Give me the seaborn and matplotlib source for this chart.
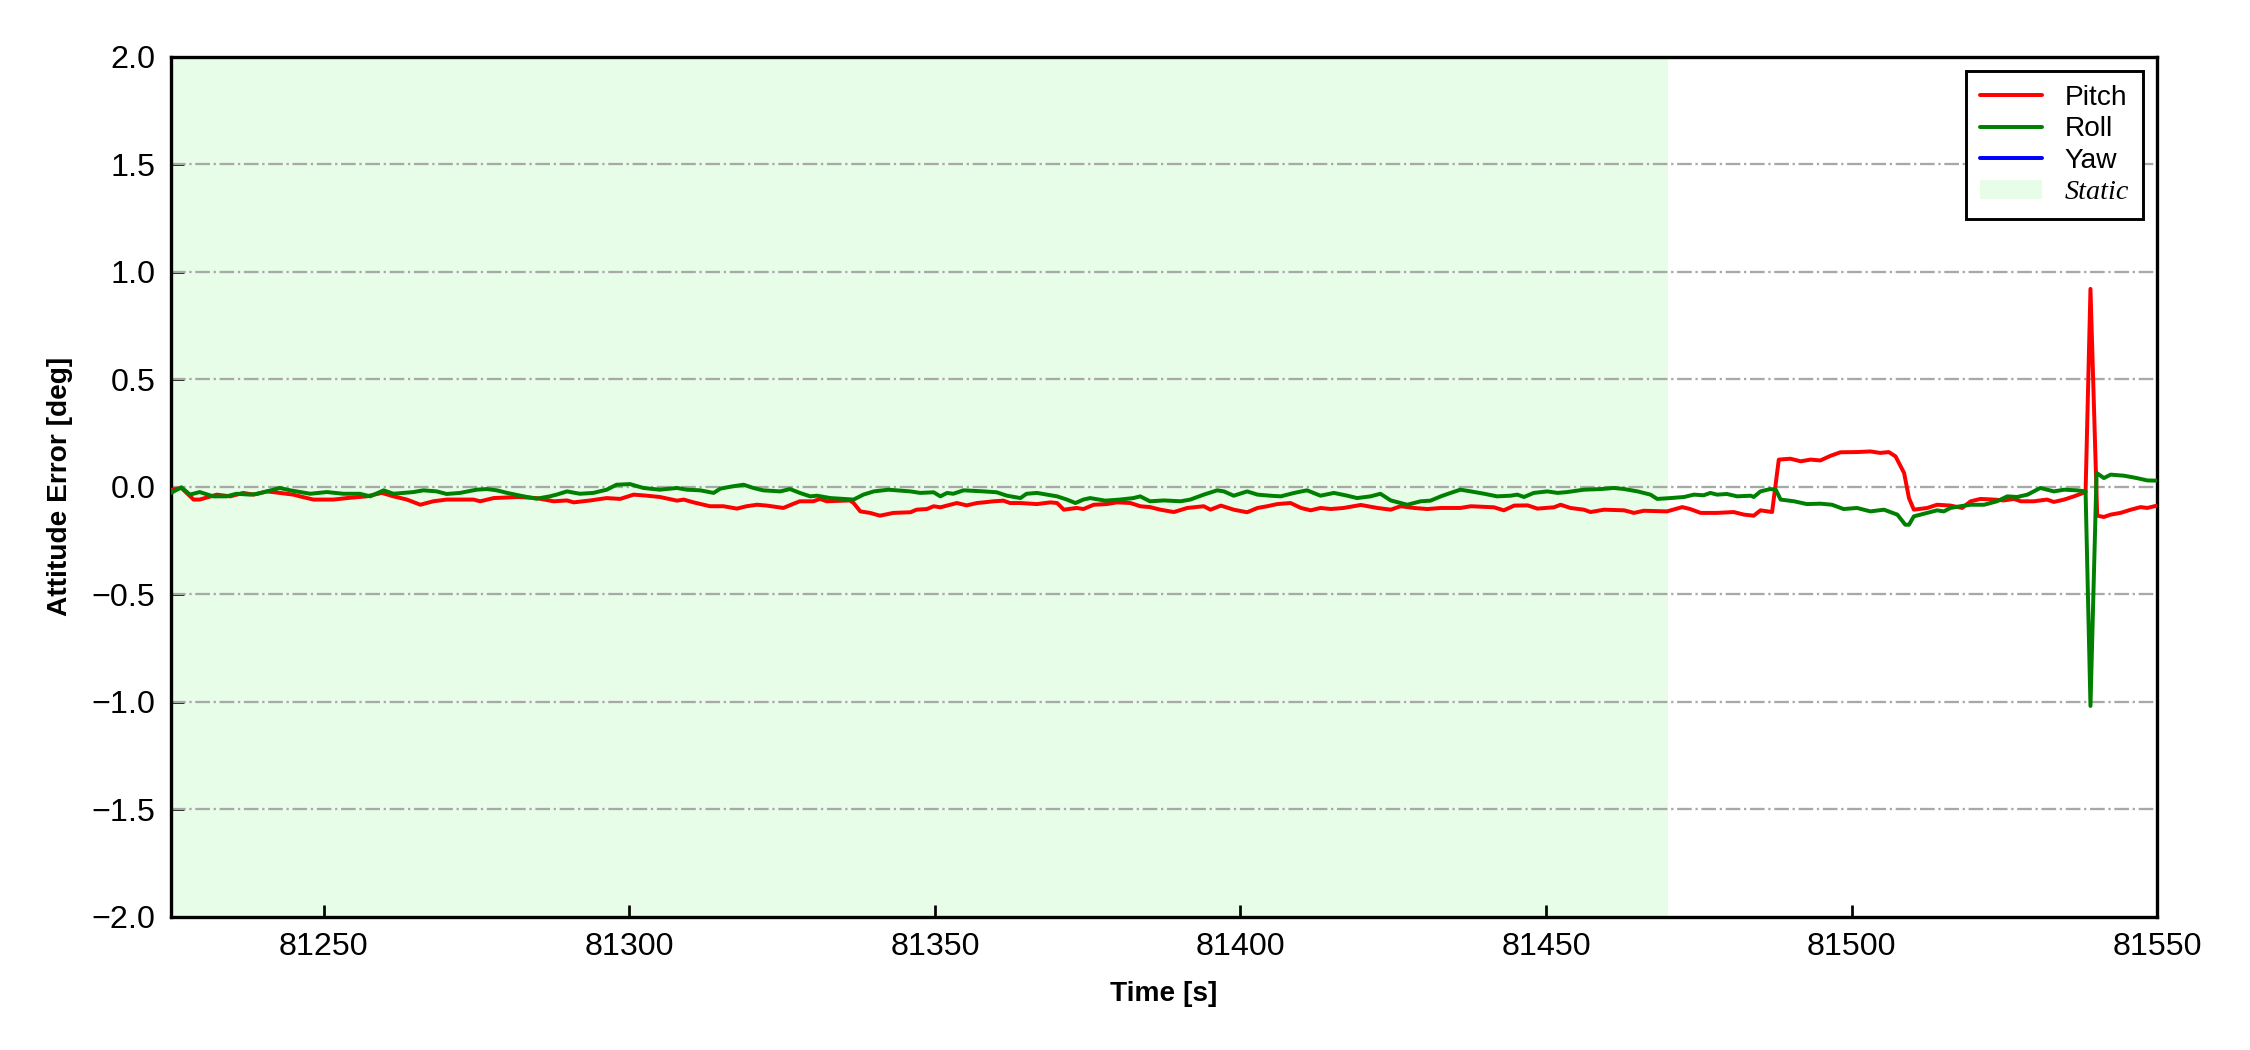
import matplotlib

matplotlib.use("Agg")

import matplotlib.pyplot as plt
import pandas as pd
import seaborn as sns
from matplotlib.lines import Line2D
from matplotlib.patches import Patch

# attitude error traces
pitch_t = [
    81225.0, 81226.7, 81228.7, 81229.7, 81232.5, 81234.7, 81236.8, 81238.5, 81240.7,
    81242.8, 81245.0, 81246.1, 81248.3, 81251.6, 81253.8, 81257.0, 81259.5, 81261.4, 81263.6,
    81265.8, 81267.9, 81270.1, 81274.5, 81275.6, 81277.8, 81281.8, 81284.8, 81287.6, 81289.8,
    81290.9, 81293.6, 81296.3, 81298.5, 81300.7, 81302.9, 81305.0,
    81307.8, 81308.9, 81310.5, 81313.2, 81315.4, 81317.6, 81319.2, 81320.9, 81322.5, 81325.2,
    81326.9, 81327.9, 81330.1, 81331.2, 81332.3, 81336.1, 81336.7, 81337.8, 81339.4, 81341.0,
    81343.2, 81346.0, 81347.0, 81348.7, 81349.8, 81350.9, 81352.5, 81353.6, 81355.2, 81356.9,
    81358.0, 81359.6, 81361.2, 81362.3, 81364.0, 81366.7, 81368.9, 81370.0, 81371.1, 81373.2,
    81374.3, 81376.0, 81378.1, 81379.8, 81382.0, 81383.6, 81385.2,
    81386.9, 81389.1, 81391.3, 81394.0, 81395.1, 81396.8, 81398.9, 81401.1, 81402.8, 81404.4,
    81406.0, 81408.2, 81409.9, 81411.5, 81413.1, 81414.8, 81416.9, 81419.7, 81422.4, 81424.6,
    81426.2, 81428.4, 81430.6, 81432.8, 81436.0, 81437.7, 81441.5, 81443.1, 81444.8, 81447.0,
    81448.6, 81451.3, 81452.4, 81454.0, 81456.2, 81457.3, 81459.5, 81462.8, 81464.4, 81466.0,
    81469.8, 81472.3, 81473.6, 81475.3, 81478.0, 81480.7, 81482.4, 81484.0, 81485.1, 81487.0,
    81488.1, 81490.0, 81491.7, 81493.3, 81494.9, 81496.6, 81498.2, 81500.9, 81503.1, 81504.7,
    81506.1, 81507.2, 81508.6, 81509.4, 81510.2, 81512.4, 81514.0, 81516.2, 81518.1, 81519.5,
    81521.1, 81523.3, 81524.9, 81526.6, 81527.7, 81529.8, 81532.0, 81533.1, 81534.8, 81536.4,
    81538.3, 81539.1, 81540.2, 81541.3, 81542.4, 81544.0, 81545.7, 81547.3, 81548.4, 81550.0,
]
pitch = [
    -0.015, -0.006, -0.060, -0.060, -0.037, -0.045, -0.029, -0.037, -0.022,
    -0.029, -0.037, -0.045, -0.060, -0.060, -0.053, -0.045, -0.029, -0.045, -0.060,
    -0.084, -0.068, -0.060, -0.060, -0.068, -0.053, -0.048, -0.053, -0.068, -0.064,
    -0.073, -0.064, -0.053, -0.057, -0.037, -0.042, -0.048,
    -0.065, -0.060, -0.073, -0.091, -0.091, -0.102, -0.091, -0.084, -0.088, -0.099,
    -0.079, -0.068, -0.068, -0.057, -0.068, -0.064, -0.076, -0.115, -0.122, -0.135,
    -0.122, -0.119, -0.107, -0.104, -0.091, -0.096, -0.084, -0.076, -0.087, -0.076,
    -0.073, -0.068, -0.065, -0.076, -0.076, -0.081, -0.073, -0.076, -0.107, -0.099,
    -0.104, -0.084, -0.081, -0.073, -0.076, -0.091, -0.095,
    -0.107, -0.118, -0.099, -0.091, -0.107, -0.088, -0.107, -0.119, -0.099, -0.091,
    -0.081, -0.076, -0.099, -0.110, -0.099, -0.104, -0.099, -0.085, -0.099, -0.107,
    -0.091, -0.099, -0.104, -0.099, -0.099, -0.091, -0.096, -0.110, -0.088, -0.087,
    -0.102, -0.096, -0.084, -0.099, -0.107, -0.118, -0.107, -0.110, -0.122, -0.112,
    -0.115, -0.095, -0.104, -0.122, -0.122, -0.118, -0.130, -0.135, -0.110, -0.118,
    0.126, 0.130, 0.118, 0.126, 0.122, 0.144, 0.160, 0.161, 0.164, 0.157,
    0.161, 0.141, 0.064, -0.053, -0.107, -0.099, -0.084, -0.088, -0.099, -0.068,
    -0.057, -0.060, -0.064, -0.057, -0.068, -0.068, -0.060, -0.071, -0.060, -0.045,
    -0.025, 0.920, -0.135, -0.141, -0.130, -0.122, -0.107, -0.095, -0.099, -0.088,
]

roll_t = [
    81225.0, 81226.7, 81228.1, 81229.7, 81231.9, 81234.1, 81235.7, 81237.9, 81239.0, 81240.7,
    81242.8, 81244.5, 81246.1, 81247.8, 81250.5, 81253.2, 81255.9, 81257.6, 81259.8, 81261.4,
    81264.7, 81266.3, 81268.5, 81270.1, 81272.3, 81275.0, 81276.7, 81278.3, 81280.0, 81282.7,
    81284.8, 81287.0, 81288.1, 81289.8, 81291.9, 81294.1, 81296.3, 81297.9, 81300.1, 81302.3,
    81305.0,
    81307.8, 81309.4, 81311.6, 81313.8, 81314.9, 81317.0, 81318.7, 81320.3, 81321.9, 81324.7,
    81326.3, 81327.9, 81329.6, 81330.7, 81332.9, 81335.0, 81336.7, 81338.3, 81340.0, 81342.4,
    81346.0, 81347.6, 81349.8, 81350.9, 81352.0, 81353.0, 81354.7, 81358.0, 81360.1, 81361.8,
    81364.0, 81365.0, 81366.7, 81368.3, 81370.0, 81371.6, 81373.0, 81374.3, 81375.4, 81377.9,
    81380.3, 81382.5, 81383.6, 81385.2,
    81387.5, 81390.2, 81391.8, 81394.0, 81396.2, 81397.3, 81398.9, 81401.1, 81402.8, 81404.9,
    81406.6, 81408.8, 81410.9, 81413.1, 81415.3, 81417.5, 81419.1, 81421.3, 81422.9, 81424.6,
    81427.3, 81429.5, 81431.1, 81432.8, 81434.4, 81436.0, 81437.7, 81439.9, 81442.0, 81444.2,
    81445.3, 81446.4, 81448.0, 81450.2, 81451.9, 81453.5, 81456.2, 81459.0, 81461.1, 81462.8,
    81465.0, 81467.1,
    81468.2, 81470.4, 81472.6, 81474.2, 81475.8, 81476.9, 81478.0, 81479.6, 81481.3, 81483.5,
    81484.0, 81485.1, 81486.7, 81487.6, 81488.4, 81490.6, 81492.7, 81494.9, 81496.8, 81498.7,
    81500.9, 81503.1, 81505.3, 81507.5, 81508.8, 81509.4, 81510.2, 81512.4, 81514.0, 81515.1,
    81516.2, 81517.8, 81519.5, 81521.7, 81523.8, 81525.5, 81527.1, 81528.8, 81530.9, 81533.1,
    81534.8, 81536.9, 81538.3, 81539.1, 81540.1, 81541.3, 81542.4, 81544.6, 81546.7, 81548.4,
    81550.0,
]
roll = [
    -0.029, -0.003, -0.037, -0.025, -0.045, -0.045, -0.033, -0.037, -0.034, -0.022,
    -0.006, -0.017, -0.025, -0.033, -0.025, -0.033, -0.033, -0.045, -0.017, -0.033,
    -0.025, -0.017, -0.022, -0.034, -0.029, -0.014, -0.011, -0.017, -0.029, -0.045,
    -0.056, -0.045, -0.037, -0.022, -0.033, -0.029, -0.014, 0.009, 0.012, -0.006,
    -0.014,
    -0.006, -0.014, -0.017, -0.029, -0.009, 0.002, 0.009, -0.006, -0.017, -0.022,
    -0.011, -0.029, -0.045, -0.042, -0.053, -0.057, -0.060, -0.037, -0.022, -0.014,
    -0.022, -0.029, -0.026, -0.045, -0.029, -0.033, -0.017, -0.022, -0.026, -0.042,
    -0.053, -0.033, -0.029, -0.037, -0.045, -0.060, -0.076, -0.060, -0.053, -0.065,
    -0.060, -0.053, -0.045, -0.068,
    -0.064, -0.068, -0.060, -0.037, -0.017, -0.022, -0.042, -0.022, -0.037, -0.042,
    -0.045, -0.029, -0.017, -0.042, -0.029, -0.042, -0.053, -0.045, -0.033, -0.064,
    -0.084, -0.068, -0.065, -0.045, -0.029, -0.014, -0.022, -0.033, -0.045, -0.042,
    -0.037, -0.048, -0.029, -0.022, -0.029, -0.025, -0.014, -0.011, -0.006, -0.011,
    -0.022, -0.037,
    -0.057, -0.053, -0.048, -0.037, -0.040, -0.029, -0.037, -0.034, -0.045, -0.042,
    -0.048, -0.022, -0.011, -0.014, -0.060, -0.068, -0.081, -0.079, -0.084, -0.104,
    -0.099, -0.115, -0.107, -0.130, -0.177, -0.177, -0.138, -0.122, -0.110, -0.115,
    -0.099, -0.091, -0.084, -0.084, -0.068, -0.045, -0.048, -0.037, -0.006, -0.022,
    -0.014, -0.017, -0.022, -1.020, 0.064, 0.040, 0.056, 0.051, 0.040, 0.029,
    0.028,
]

series_names = ["Pitch", "Roll", "Yaw"]
series_colors = ["red", "green", "blue"]
static_end = 81470.0
x_limits = (81225, 81550)
x_ticks = [81250, 81300, 81350, 81400, 81450, 81500, 81550]
y_ticks = [-2.0, -1.5, -1.0, -0.5, 0.0, 0.5, 1.0, 1.5, 2.0]

STATIC_COLOR = "#e8fde8"

sns.set_theme(style="white")
plt.rcParams["font.family"] = ["Liberation Sans", "DejaVu Sans"]
plt.rcParams.update({
    "text.color": "black",
    "axes.labelcolor": "black",
    "xtick.color": "black",
    "ytick.color": "black",
})

df = pd.concat(
    [
        pd.DataFrame({"time": pitch_t, "error": pitch, "axis": "Pitch"}),
        pd.DataFrame({"time": roll_t, "error": roll, "axis": "Roll"}),
    ],
    ignore_index=True,
)

fig = plt.figure(figsize=(15, 7), dpi=150)
ax = fig.add_axes([0.076, 0.127, 0.8827, 0.819])

ax.axvspan(x_limits[0], static_end, color=STATIC_COLOR, lw=0, zorder=0)
for y in y_ticks[1:-1]:
    ax.axhline(y, color="#a8a8a8", lw=1.1, ls="-.", zorder=1)

sns.lineplot(
    data=df, x="time", y="error", hue="axis",
    palette=dict(zip(series_names, series_colors)),
    estimator=None, sort=False, legend=False, lw=1.9, ax=ax, zorder=3,
)

ax.set_xlim(*x_limits)
ax.set_ylim(-2.0, 2.0)
ax.set_xticks(x_ticks)
ax.set_yticks(y_ticks)
ax.tick_params(direction="in", length=6, width=1.3, labelsize=15.5, pad=7.5,
               bottom=True, left=True, top=False, right=False)
for side in ax.spines.values():
    side.set_color("black")
    side.set_linewidth(1.6)

ax.set_xlabel("Time [s]", fontsize=13.5, fontweight="bold", labelpad=9)
ax.set_ylabel("Attitude Error [deg]", fontsize=13.5, fontweight="bold", labelpad=9)

# yaw has no samples inside the plotted range, only its legend entry shows
handles = [Line2D([], [], color=c, lw=1.9) for c in series_colors]
handles.append(Patch(facecolor=STATIC_COLOR, edgecolor="none"))
leg = ax.legend(
    handles, series_names + ["Static"], loc="upper right", fontsize=13.5,
    frameon=True, fancybox=False, framealpha=1, edgecolor="black",
    handlelength=2.2, handletextpad=0.8, labelspacing=0.2, borderaxespad=0.5,
    borderpad=0.5,
)
leg.get_frame().set_linewidth(1.4)
leg.get_texts()[3].set_fontfamily(["Liberation Serif", "DejaVu Serif"])
leg.get_texts()[3].set_fontstyle("italic")

fig.savefig("out.png", dpi=150)
